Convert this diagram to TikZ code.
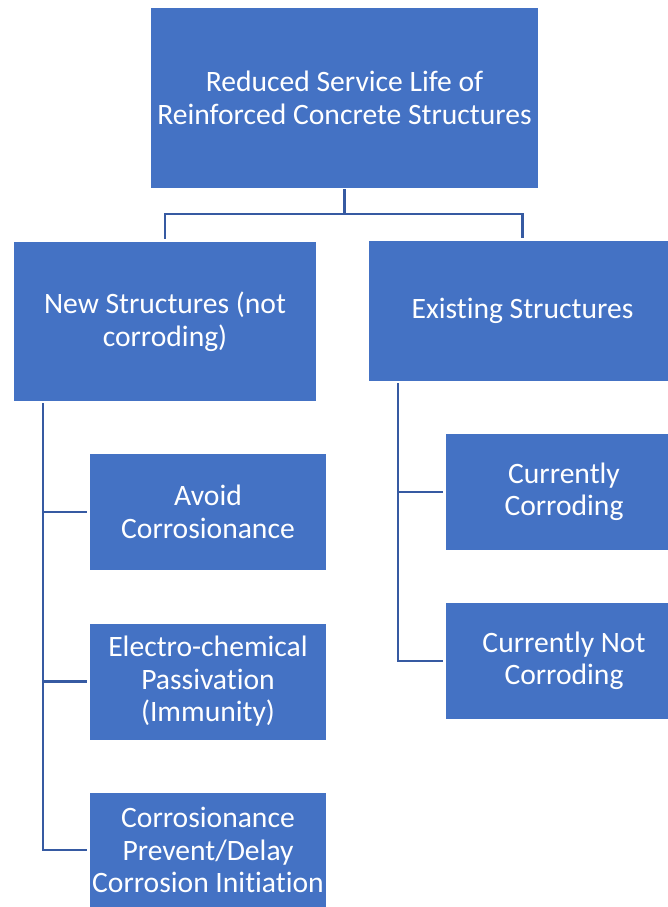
\documentclass[tikz,border=0pt]{standalone}
\usepackage{fontspec}
\setmainfont[Ligatures=NoCommon]{Carlito}
\usepackage{tikz}
\usetikzlibrary{arrows,shapes}

\definecolor{boxblue}{RGB}{68,114,196}
\definecolor{lineblue}{RGB}{54,90,162}

\begin{document}
\begin{tikzpicture}[x=1pt,y=-1pt,line width=2.4pt]
            \tikzstyle{box}=[rectangle,fill=boxblue,text=white,align=center,inner sep=0pt,
                             font=\fontsize{29.6}{32.5}\selectfont]
            \tikzstyle{link}=[draw=lineblue,shorten >=2pt]

            \useasboundingbox (0,0) rectangle (667,907);

            \node[box, minimum width=387pt, minimum height=180pt] (T-root) at (344.5, 98) {Reduced Service Life of\\Reinforced Concrete Structures};
            \node[box, minimum width=302pt, minimum height=159pt] (T-new) at (165, 321.5) {New Structures (not\\corroding)};
            \node[box, minimum width=307pt, minimum height=140pt] (T-exist) at (522.5, 311) {Existing Structures};

            \node[box, minimum width=236pt, minimum height=116pt] (T-avoid) at (208, 512) {Avoid\\Corrosionance};
            \node[box, minimum width=236pt, minimum height=116pt] (T-electro) at (208, 681.5) {Electro-chemical\\Passivation\\(Immunity)};
            \node[box, minimum width=236pt, minimum height=114pt] (T-prevent) at (208, 850) {Corrosionance\\Prevent/Delay\\Corrosion Initiation};

            \node[box, minimum width=236pt, minimum height=116pt] (T-corr) at (564, 492) {Currently\\Corroding};
            \node[box, minimum width=236pt, minimum height=116pt] (T-notcorr) at (564, 661) {Currently Not\\Corroding};

            \coordinate (T-newdrop) at (43, 403);
            \coordinate (T-existdrop) at (398, 383);

            \draw[link] (T-root.south) -- ++(0,25) -| (T-new.north);
            \draw[link] (T-root.south) -- ++(0,25) -| (T-exist.north);

            \draw[link] (T-newdrop) |- (T-avoid.west);
            \draw[link] (T-newdrop) |- (T-electro.west);
            \draw[link] (T-newdrop) |- (T-prevent.west);

            \draw[link] (T-existdrop) |- (T-corr.west);
            \draw[link] (T-existdrop) |- (T-notcorr.west);
        \end{tikzpicture}
\end{document}
